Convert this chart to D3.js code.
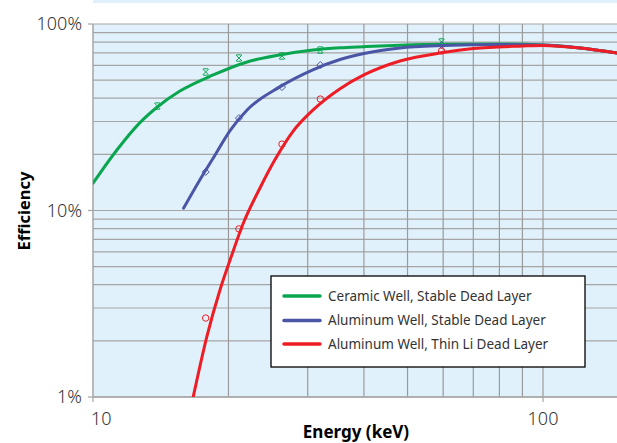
<!DOCTYPE html>
<html><head><meta charset="utf-8">
<script src="https://cdn.jsdelivr.net/npm/d3@7"></script>
<style>
html,body{margin:0;padding:0;background:#fff;overflow:hidden;}
text{font-family:"Noto Sans",sans-serif;}
</style></head>
<body>
<svg id="chart" width="617" height="443"></svg>
<script>
// ---- data ----
const seriesNames = ["Ceramic Well, Stable Dead Layer","Aluminum Well, Stable Dead Layer","Aluminum Well, Thin Li Dead Layer"];
const seriesColors = ["#0aa64f","#4b55a6","#ee1d25"];

const ceramicCurveE   = [10.0, 11.3, 12.7, 13.9, 15.6, 18.5, 22.0, 26.0, 30.8, 35.4, 40, 48.1, 60, 80, 100, 121, 146];
const ceramicCurveEff = [0.140,0.211,0.295,0.359,0.437,0.533,0.626,0.682,0.725,0.7455,0.756,0.770,0.779,0.781,0.772,0.744,0.699];

const aluCurveE   = [15.9, 17.7, 18.4, 20.2, 22.0, 26.0, 30.8, 35.4, 40, 48.1, 60, 80, 100, 121, 146];
const aluCurveEff = [0.103,0.161,0.187,0.270,0.346,0.460,0.568,0.645,0.695,0.744,0.766,0.776,0.771,0.744,0.699];

const thinCurveE   = [16.7, 17.9, 19.15, 20.2, 21.5, 23.5, 25.4, 27.8, 30.8, 35.4, 40, 48.1, 60, 70, 90, 100, 121, 146];
const thinCurveEff = [0.0100,0.0210,0.0375,0.0549,0.0836,0.132,0.188,0.265,0.345,0.450,0.533,0.633,0.703,0.738,0.762,0.768,0.744,0.699];

const ceramicPtsE   = [13.9, 17.8, 21.1, 26.3, 32.0, 59.5];
const ceramicPtsEff = [0.363,0.553,0.657,0.674,0.725,0.801];
const aluPtsE   = [17.8, 21.1, 26.3, 32.0, 59.5];
const aluPtsEff = [0.161,0.313,0.459,0.603,0.772];
const thinPtsE   = [17.8, 21.1, 26.3, 32.0, 59.5];
const thinPtsEff = [0.0265,0.0797,0.227,0.396,0.717];

const xTickValues = [10, 100];
const xTickLabels = ["10", "100"];
const yTickValues = [0.01, 0.1, 1];
const yTickLabels = ["1%", "10%", "100%"];

// ---- layout ----
const svg = d3.select("#chart");
const L = 93, T = 24, B = 397;
const x = d3.scaleLog().domain([10, 150]).range([L, L + 450 * Math.log10(15)]);
const y = d3.scaleLog().domain([0.01, 1]).range([B, T]);
const R = 617;

// top strip
svg.append("rect").attr("x", L).attr("y", 0).attr("width", R - L).attr("height", 3).attr("fill", "#e0f1fb");

// plot background
svg.append("rect").attr("x", L).attr("y", T).attr("width", R - L).attr("height", B - T).attr("fill", "#e0f1fb");

// gridlines
const yGrid = [];
for (const d of [0.01, 0.1]) for (let k = 1; k <= 9; k++) yGrid.push(d * k);
yGrid.push(1);
svg.append("g").selectAll("line").data(yGrid).join("line")
  .attr("x1", L).attr("x2", R).attr("y1", d => y(d)).attr("y2", d => y(d))
  .attr("stroke", "#a5a5a5").attr("stroke-width", 1.2);
const xGrid = [20,30,40,50,60,70,80,90,100];
svg.append("g").selectAll("line").data(xGrid).join("line")
  .attr("y1", T).attr("y2", B).attr("x1", d => x(d)).attr("x2", d => x(d))
  .attr("stroke", "#9a9a9a").attr("stroke-width", 1.2);

// axes lines
svg.append("line").attr("x1", L).attr("x2", L).attr("y1", T).attr("y2", B).attr("stroke", "#a5a5a5").attr("stroke-width", 1.5);
svg.append("line").attr("x1", L).attr("x2", R).attr("y1", B).attr("y2", B).attr("stroke", "#a5a5a5").attr("stroke-width", 1.5);

// y ticks
const yAxis = svg.append("g");
yTickValues.forEach((v, i) => {
  yAxis.append("line").attr("x1", L - 5).attr("x2", L).attr("y1", y(v)).attr("y2", y(v)).attr("stroke", "#a5a5a5").attr("stroke-width", 1.2);
  yAxis.append("text").attr("x", 82).attr("y", y(v)).attr("dy", "0.36em").attr("text-anchor", "end")
    .attr("font-size", 18).attr("font-weight", 300).attr("fill", "#333").text(yTickLabels[i]);
});
// x ticks
const xAxis = svg.append("g");
xTickValues.forEach((v, i) => {
  xAxis.append("line").attr("x1", x(v)).attr("x2", x(v)).attr("y1", B).attr("y2", B + 5).attr("stroke", "#a5a5a5").attr("stroke-width", 1.2);
  xAxis.append("text").attr("x", x(v) + (i === 0 ? -2 : 0)).attr("y", 425).attr("text-anchor", i === 0 ? "start" : "middle")
    .attr("font-size", 18).attr("font-weight", 300).attr("fill", "#333").text(xTickLabels[i]);
});

// axis titles
svg.append("text").attr("transform", "translate(30,211) rotate(-90)").attr("text-anchor", "middle")
  .attr("font-size", 16.5).attr("font-weight", 700).attr("fill", "#000").text("Efficiency");
svg.append("text").attr("x", 356).attr("y", 438).attr("text-anchor", "middle")
  .attr("font-size", 17).attr("font-weight", 700).attr("fill", "#000").text("Energy (keV)");

// clip
svg.append("clipPath").attr("id", "clip").append("rect").attr("x", L).attr("y", T - 5).attr("width", R - L).attr("height", B - T + 5);

const line = d3.line().x(d => x(d[0])).y(d => y(d[1])).curve(d3.curveMonotoneX);
const curves = [
  d3.zip(ceramicCurveE, ceramicCurveEff),
  d3.zip(aluCurveE, aluCurveEff),
  d3.zip(thinCurveE, thinCurveEff)
];
const pts = [
  d3.zip(ceramicPtsE, ceramicPtsEff),
  d3.zip(aluPtsE, aluPtsEff),
  d3.zip(thinPtsE, thinPtsEff)
];
const plot = svg.append("g").attr("clip-path", "url(#clip)");

// markers
const starPath = "M-3,-3L3,3M3,-3L-3,3M-2.5,-3.2H2.5M-2.5,3.2H2.5";
plot.append("g").selectAll("path").data(pts[0]).join("path")
  .attr("transform", d => `translate(${x(d[0])},${y(d[1])})`).attr("d", starPath)
  .attr("fill", "none").attr("stroke", seriesColors[0]).attr("stroke-width", 1);
plot.append("g").selectAll("path").data(pts[1]).join("path")
  .attr("transform", d => `translate(${x(d[0])},${y(d[1])})`).attr("d", "M0,-3.5L3.5,0L0,3.5L-3.5,0Z")
  .attr("fill", "none").attr("stroke", seriesColors[1]).attr("stroke-width", 1);
plot.append("g").selectAll("circle").data(pts[2]).join("circle")
  .attr("cx", d => x(d[0])).attr("cy", d => y(d[1])).attr("r", 3.2)
  .attr("fill", "none").attr("stroke", seriesColors[2]).attr("stroke-width", 1);

// curves
curves.forEach((c, i) => {
  plot.append("path").datum(c).attr("d", line).attr("fill", "none")
    .attr("stroke", seriesColors[i]).attr("stroke-width", 3).attr("stroke-linecap", "round");
});

// legend
const lg = svg.append("g");
lg.append("rect").attr("x", 271).attr("y", 276).attr("width", 314).attr("height", 91)
  .attr("fill", "#fff").attr("stroke", "#000").attr("stroke-width", 1.3);
const ly = [296, 320.5, 344];
seriesNames.forEach((n, i) => {
  lg.append("line").attr("x1", 284).attr("x2", 320).attr("y1", ly[i]).attr("y2", ly[i])
    .attr("stroke", seriesColors[i]).attr("stroke-width", 3.5).attr("stroke-linecap", "round");
  lg.append("text").attr("x", 328).attr("y", ly[i]).attr("dy", "0.35em").attr("font-size", 13.5)
    .attr("fill", "#333").text(n);
});
</script>
</body></html>
